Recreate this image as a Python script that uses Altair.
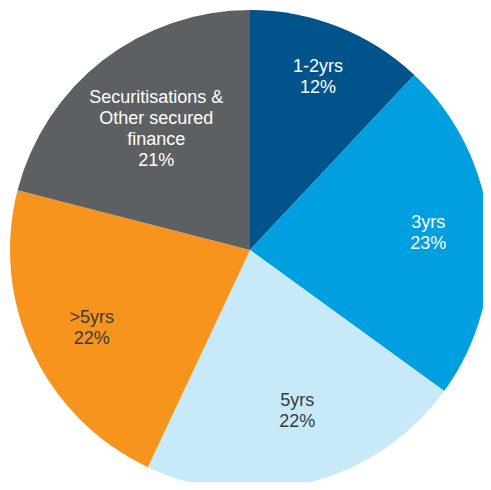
import altair as alt
import pandas as pd

categories = ["1-2yrs", "3yrs", "5yrs", ">5yrs", "Securitisations & Other secured finance"]
labels = ["1-2yrs\n12%", "3yrs\n23%", "5yrs\n22%", ">5yrs\n22%", "Securitisations &\nOther secured\nfinance\n21%"]
values = [12, 23, 22, 22, 21]
colors = ["#00538b", "#009fe0", "#c8eaf8", "#f7941e", "#5d6062"]
text_colors = ["#ffffff", "#ffffff", "#3a3a3a", "#3a3a3a", "#ffffff"]

df = pd.DataFrame({
    "category": categories,
    "label": labels,
    "value": values,
    "order": list(range(len(categories))),
})

cx, cy = 242, 242
theta_scale = alt.Scale(domain=[0, 100], range=[0, 6.283185307])

base = alt.Chart(df).transform_window(
    cum="sum(value)", sort=[alt.SortField("order")], frame=[None, 0]
).transform_calculate(
    start="datum.cum - datum.value",
    mid="datum.cum - datum.value / 2",
)

arcs = base.mark_arc(outerRadius=240).encode(
    x=alt.value(cx), y=alt.value(cy),
    theta=alt.Theta("start:Q", scale=theta_scale),
    theta2="cum:Q",
    color=alt.Color("category:N", scale=alt.Scale(domain=categories, range=colors), legend=None),
)

line_h = 21
label_radii = [185, 179, 170, 177, 153]
label_shift = [(0, 0), (0, 0), (5, -3), (2, 3), (0, 0)]

layers = [arcs]
for i, r in enumerate(label_radii):
    n_lines = labels[i].count("\n") + 1
    sx, sy = label_shift[i]
    layers.append(
        base.mark_text(
            radius=r, dx=sx, dy=sy - (n_lines - 1) * line_h / 2, color=text_colors[i],
            font="Liberation Sans", fontSize=18, lineBreak="\n", lineHeight=line_h,
            align="center", baseline="middle",
        ).encode(
            x=alt.value(cx), y=alt.value(cy),
            theta=alt.Theta("mid:Q", scale=theta_scale), text="label:N",
        ).transform_filter(alt.datum.order == i)
    )

chart = alt.layer(*layers).properties(
    width=475, height=474, autosize=alt.AutoSizeParams(type="none"), padding=0
).configure_view(stroke=None)

chart.save("out.html", embed_options={"renderer": "svg", "actions": False})
